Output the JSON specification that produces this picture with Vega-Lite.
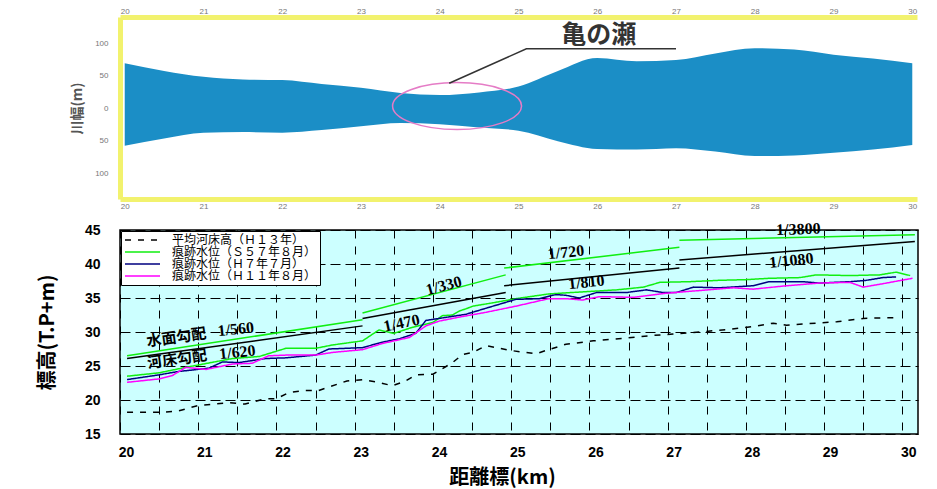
{
  "$schema": "https://vega.github.io/schema/vega-lite/v6.json",
  "background": "white",
  "padding": {"left": 36, "top": 7, "right": 5, "bottom": 2},
  "spacing": 31,
  "bounds": "flush",
  "resolve": {"legend": {"color": "independent", "strokeDash": "independent"}},
  "config": {"font": "Liberation Sans", "view": {"stroke": null}},
  "datasets": {
    "river": [
      {"km": 20, "upper": 69, "lower": -58},
      {"km": 20.5, "upper": 57, "lower": -47},
      {"km": 21, "upper": 48, "lower": -38},
      {"km": 21.5, "upper": 44, "lower": -37},
      {"km": 22, "upper": 43, "lower": -38},
      {"km": 22.5, "upper": 37, "lower": -34},
      {"km": 23, "upper": 31, "lower": -28},
      {"km": 23.5, "upper": 23, "lower": -23},
      {"km": 24, "upper": 20, "lower": -25},
      {"km": 24.5, "upper": 24, "lower": -30},
      {"km": 25, "upper": 33, "lower": -35},
      {"km": 25.5, "upper": 57, "lower": -51},
      {"km": 26, "upper": 77, "lower": -63},
      {"km": 26.5, "upper": 72, "lower": -64},
      {"km": 27, "upper": 74, "lower": -62},
      {"km": 27.5, "upper": 84, "lower": -67},
      {"km": 28, "upper": 92, "lower": -74},
      {"km": 28.5, "upper": 90, "lower": -73},
      {"km": 29, "upper": 82, "lower": -69},
      {"km": 29.5, "upper": 76, "lower": -64},
      {"km": 30, "upper": 69, "lower": -57}
    ],
    "levels": [
      {"series": "平均河床高（Ｈ１３年）", "km": 20.09, "value": 18.2},
      {"series": "平均河床高（Ｈ１３年）", "km": 20.54, "value": 18.2},
      {"series": "平均河床高（Ｈ１３年）", "km": 20.75, "value": 18.4},
      {"series": "平均河床高（Ｈ１３年）", "km": 21.0, "value": 19.2},
      {"series": "平均河床高（Ｈ１３年）", "km": 21.4, "value": 19.6},
      {"series": "平均河床高（Ｈ１３年）", "km": 21.6, "value": 19.4},
      {"series": "平均河床高（Ｈ１３年）", "km": 21.86, "value": 20.2},
      {"series": "平均河床高（Ｈ１３年）", "km": 22.0, "value": 20.2},
      {"series": "平均河床高（Ｈ１３年）", "km": 22.16, "value": 21.1},
      {"series": "平均河床高（Ｈ１３年）", "km": 22.37, "value": 21.4},
      {"series": "平均河床高（Ｈ１３年）", "km": 22.54, "value": 21.4},
      {"series": "平均河床高（Ｈ１３年）", "km": 22.9, "value": 22.8},
      {"series": "平均河床高（Ｈ１３年）", "km": 23.1, "value": 23.0},
      {"series": "平均河床高（Ｈ１３年）", "km": 23.3, "value": 22.6},
      {"series": "平均河床高（Ｈ１３年）", "km": 23.48, "value": 22.1},
      {"series": "平均河床高（Ｈ１３年）", "km": 23.65, "value": 22.8},
      {"series": "平均河床高（Ｈ１３年）", "km": 23.78, "value": 23.7},
      {"series": "平均河床高（Ｈ１３年）", "km": 24.0, "value": 23.8},
      {"series": "平均河床高（Ｈ１３年）", "km": 24.12, "value": 24.6},
      {"series": "平均河床高（Ｈ１３年）", "km": 24.25, "value": 25.5},
      {"series": "平均河床高（Ｈ１３年）", "km": 24.38, "value": 26.7},
      {"series": "平均河床高（Ｈ１３年）", "km": 24.51, "value": 27.0},
      {"series": "平均河床高（Ｈ１３年）", "km": 24.68, "value": 28.0},
      {"series": "平均河床高（Ｈ１３年）", "km": 24.98, "value": 27.3},
      {"series": "平均河床高（Ｈ１３年）", "km": 25.32, "value": 26.8},
      {"series": "平均河床高（Ｈ１３年）", "km": 25.45, "value": 27.3},
      {"series": "平均河床高（Ｈ１３年）", "km": 25.7, "value": 28.2},
      {"series": "平均河床高（Ｈ１３年）", "km": 26.05, "value": 28.7},
      {"series": "平均河床高（Ｈ１３年）", "km": 26.47, "value": 29.1},
      {"series": "平均河床高（Ｈ１３年）", "km": 26.81, "value": 29.5},
      {"series": "平均河床高（Ｈ１３年）", "km": 27.07, "value": 29.7},
      {"series": "平均河床高（Ｈ１３年）", "km": 27.41, "value": 30.0},
      {"series": "平均河床高（Ｈ１３年）", "km": 27.79, "value": 30.4},
      {"series": "平均河床高（Ｈ１３年）", "km": 28.09, "value": 30.8},
      {"series": "平均河床高（Ｈ１３年）", "km": 28.35, "value": 31.3},
      {"series": "平均河床高（Ｈ１３年）", "km": 28.52, "value": 31.0},
      {"series": "平均河床高（Ｈ１３年）", "km": 28.9, "value": 31.3},
      {"series": "平均河床高（Ｈ１３年）", "km": 29.16, "value": 31.5},
      {"series": "平均河床高（Ｈ１３年）", "km": 29.5, "value": 32.0},
      {"series": "平均河床高（Ｈ１３年）", "km": 29.8, "value": 32.1},
      {"series": "平均河床高（Ｈ１３年）", "km": 29.97, "value": 32.1},

      {"series": "痕跡水位（Ｓ５７年８月）", "km": 20.09, "value": 23.5},
      {"series": "痕跡水位（Ｓ５７年８月）", "km": 20.5, "value": 24.0},
      {"series": "痕跡水位（Ｓ５７年８月）", "km": 20.84, "value": 24.8},
      {"series": "痕跡水位（Ｓ５７年８月）", "km": 21.0, "value": 25.15},
      {"series": "痕跡水位（Ｓ５７年８月）", "km": 21.44, "value": 26.1},
      {"series": "痕跡水位（Ｓ５７年８月）", "km": 21.78, "value": 26.4},
      {"series": "痕跡水位（Ｓ５７年８月）", "km": 22.12, "value": 27.6},
      {"series": "痕跡水位（Ｓ５７年８月）", "km": 22.5, "value": 27.6},
      {"series": "痕跡水位（Ｓ５７年８月）", "km": 22.72, "value": 28.1},
      {"series": "痕跡水位（Ｓ５７年８月）", "km": 23.1, "value": 28.7},
      {"series": "痕跡水位（Ｓ５７年８月）", "km": 23.31, "value": 30.3},
      {"series": "痕跡水位（Ｓ５７年８月）", "km": 23.5, "value": 29.8},
      {"series": "痕跡水位（Ｓ５７年８月）", "km": 23.74, "value": 30.7},
      {"series": "痕跡水位（Ｓ５７年８月）", "km": 24.0, "value": 31.4},
      {"series": "痕跡水位（Ｓ５７年８月）", "km": 24.12, "value": 32.4},
      {"series": "痕跡水位（Ｓ５７年８月）", "km": 24.25, "value": 32.5},
      {"series": "痕跡水位（Ｓ５７年８月）", "km": 24.34, "value": 33.1},
      {"series": "痕跡水位（Ｓ５７年８月）", "km": 24.42, "value": 33.4},
      {"series": "痕跡水位（Ｓ５７年８月）", "km": 24.51, "value": 33.8},
      {"series": "痕跡水位（Ｓ５７年８月）", "km": 24.77, "value": 34.3},
      {"series": "痕跡水位（Ｓ５７年８月）", "km": 25.06, "value": 34.9},
      {"series": "痕跡水位（Ｓ５７年８月）", "km": 25.48, "value": 35.6},
      {"series": "痕跡水位（Ｓ５７年８月）", "km": 25.91, "value": 35.9},
      {"series": "痕跡水位（Ｓ５７年８月）", "km": 26.35, "value": 36.2},
      {"series": "痕跡水位（Ｓ５７年８月）", "km": 26.69, "value": 36.6},
      {"series": "痕跡水位（Ｓ５７年８月）", "km": 26.9, "value": 37.3},
      {"series": "痕跡水位（Ｓ５７年８月）", "km": 27.28, "value": 37.4},
      {"series": "痕跡水位（Ｓ５７年８月）", "km": 27.66, "value": 37.6},
      {"series": "痕跡水位（Ｓ５７年８月）", "km": 28.0, "value": 37.7},
      {"series": "痕跡水位（Ｓ５７年８月）", "km": 28.3, "value": 37.9},
      {"series": "痕跡水位（Ｓ５７年８月）", "km": 28.69, "value": 38.0},
      {"series": "痕跡水位（Ｓ５７年８月）", "km": 28.9, "value": 38.4},
      {"series": "痕跡水位（Ｓ５７年８月）", "km": 29.33, "value": 38.3},
      {"series": "痕跡水位（Ｓ５７年８月）", "km": 29.71, "value": 38.4},
      {"series": "痕跡水位（Ｓ５７年８月）", "km": 29.92, "value": 38.8},
      {"series": "痕跡水位（Ｓ５７年８月）", "km": 30.1, "value": 38.3},

      {"series": "痕跡水位（Ｈ７年７月）", "km": 20.09, "value": 23.0},
      {"series": "痕跡水位（Ｈ７年７月）", "km": 20.5, "value": 23.7},
      {"series": "痕跡水位（Ｈ７年７月）", "km": 20.75, "value": 24.2},
      {"series": "痕跡水位（Ｈ７年７月）", "km": 20.92, "value": 24.4},
      {"series": "痕跡水位（Ｈ７年７月）", "km": 21.14, "value": 24.7},
      {"series": "痕跡水位（Ｈ７年７月）", "km": 21.31, "value": 25.6},
      {"series": "痕跡水位（Ｈ７年７月）", "km": 21.52, "value": 25.5},
      {"series": "痕跡水位（Ｈ７年７月）", "km": 21.86, "value": 26.1},
      {"series": "痕跡水位（Ｈ７年７月）", "km": 22.12, "value": 26.2},
      {"series": "痕跡水位（Ｈ７年７月）", "km": 22.5, "value": 26.6},
      {"series": "痕跡水位（Ｈ７年７月）", "km": 22.67, "value": 27.5},
      {"series": "痕跡水位（Ｈ７年７月）", "km": 23.1, "value": 27.7},
      {"series": "痕跡水位（Ｈ７年７月）", "km": 23.35, "value": 28.5},
      {"series": "痕跡水位（Ｈ７年７月）", "km": 23.57, "value": 29.0},
      {"series": "痕跡水位（Ｈ７年７月）", "km": 23.78, "value": 29.8},
      {"series": "痕跡水位（Ｈ７年７月）", "km": 23.91, "value": 31.7},
      {"series": "痕跡水位（Ｈ７年７月）", "km": 24.08, "value": 32.0},
      {"series": "痕跡水位（Ｈ７年７月）", "km": 24.42, "value": 32.6},
      {"series": "痕跡水位（Ｈ７年７月）", "km": 24.68, "value": 33.5},
      {"series": "痕跡水位（Ｈ７年７月）", "km": 25.06, "value": 34.8},
      {"series": "痕跡水位（Ｈ７年７月）", "km": 25.36, "value": 34.9},
      {"series": "痕跡水位（Ｈ７年７月）", "km": 25.57, "value": 35.5},
      {"series": "痕跡水位（Ｈ７年７月）", "km": 25.7, "value": 35.4},
      {"series": "痕跡水位（Ｈ７年７月）", "km": 25.87, "value": 35.0},
      {"series": "痕跡水位（Ｈ７年７月）", "km": 26.09, "value": 35.8},
      {"series": "痕跡水位（Ｈ７年７月）", "km": 26.47, "value": 35.8},
      {"series": "痕跡水位（Ｈ７年７月）", "km": 26.73, "value": 36.2},
      {"series": "痕跡水位（Ｈ７年７月）", "km": 26.94, "value": 35.8},
      {"series": "痕跡水位（Ｈ７年７月）", "km": 27.11, "value": 35.8},
      {"series": "痕跡水位（Ｈ７年７月）", "km": 27.33, "value": 36.6},
      {"series": "痕跡水位（Ｈ７年７月）", "km": 27.66, "value": 36.5},
      {"series": "痕跡水位（Ｈ７年７月）", "km": 28.09, "value": 36.8},
      {"series": "痕跡水位（Ｈ７年７月）", "km": 28.3, "value": 37.4},
      {"series": "痕跡水位（Ｈ７年７月）", "km": 28.73, "value": 37.4},
      {"series": "痕跡水位（Ｈ７年７月）", "km": 28.94, "value": 37.2},
      {"series": "痕跡水位（Ｈ７年７月）", "km": 29.33, "value": 37.4},
      {"series": "痕跡水位（Ｈ７年７月）", "km": 29.54, "value": 37.6},
      {"series": "痕跡水位（Ｈ７年７月）", "km": 29.75, "value": 38.0},
      {"series": "痕跡水位（Ｈ７年７月）", "km": 29.92, "value": 38.1},

      {"series": "痕跡水位（Ｈ１１年８月）", "km": 20.09, "value": 22.6},
      {"series": "痕跡水位（Ｈ１１年８月）", "km": 20.5, "value": 23.1},
      {"series": "痕跡水位（Ｈ１１年８月）", "km": 20.67, "value": 23.6},
      {"series": "痕跡水位（Ｈ１１年８月）", "km": 20.84, "value": 24.8},
      {"series": "痕跡水位（Ｈ１１年８月）", "km": 21.1, "value": 24.5},
      {"series": "痕跡水位（Ｈ１１年８月）", "km": 21.44, "value": 25.3},
      {"series": "痕跡水位（Ｈ１１年８月）", "km": 21.69, "value": 25.4},
      {"series": "痕跡水位（Ｈ１１年８月）", "km": 21.9, "value": 26.5},
      {"series": "痕跡水位（Ｈ１１年８月）", "km": 22.12, "value": 26.6},
      {"series": "痕跡水位（Ｈ１１年８月）", "km": 22.5, "value": 26.6},
      {"series": "痕跡水位（Ｈ１１年８月）", "km": 22.72, "value": 27.0},
      {"series": "痕跡水位（Ｈ１１年８月）", "km": 23.1, "value": 27.4},
      {"series": "痕跡水位（Ｈ１１年８月）", "km": 23.35, "value": 28.3},
      {"series": "痕跡水位（Ｈ１１年８月）", "km": 23.7, "value": 29.2},
      {"series": "痕跡水位（Ｈ１１年８月）", "km": 23.91, "value": 30.9},
      {"series": "痕跡水位（Ｈ１１年８月）", "km": 24.08, "value": 31.6},
      {"series": "痕跡水位（Ｈ１１年８月）", "km": 24.34, "value": 32.2},
      {"series": "痕跡水位（Ｈ１１年８月）", "km": 24.68, "value": 32.9},
      {"series": "痕跡水位（Ｈ１１年８月）", "km": 25.06, "value": 33.8},
      {"series": "痕跡水位（Ｈ１１年８月）", "km": 25.48, "value": 34.9},
      {"series": "痕跡水位（Ｈ１１年８月）", "km": 25.7, "value": 34.9},
      {"series": "痕跡水位（Ｈ１１年８月）", "km": 25.91, "value": 34.7},
      {"series": "痕跡水位（Ｈ１１年８月）", "km": 26.13, "value": 35.2},
      {"series": "痕跡水位（Ｈ１１年８月）", "km": 26.56, "value": 35.1},
      {"series": "痕跡水位（Ｈ１１年８月）", "km": 26.98, "value": 35.7},
      {"series": "痕跡水位（Ｈ１１年８月）", "km": 27.41, "value": 36.1},
      {"series": "痕跡水位（Ｈ１１年８月）", "km": 27.84, "value": 36.5},
      {"series": "痕跡水位（Ｈ１１年８月）", "km": 28.09, "value": 36.3},
      {"series": "痕跡水位（Ｈ１１年８月）", "km": 28.52, "value": 36.8},
      {"series": "痕跡水位（Ｈ１１年８月）", "km": 28.94, "value": 37.2},
      {"series": "痕跡水位（Ｈ１１年８月）", "km": 29.33, "value": 37.3},
      {"series": "痕跡水位（Ｈ１１年８月）", "km": 29.5, "value": 36.6},
      {"series": "痕跡水位（Ｈ１１年８月）", "km": 29.75, "value": 37.1},
      {"series": "痕跡水位（Ｈ１１年８月）", "km": 30.13, "value": 37.9}
    ],
    "grad": [
      {"seg": "w1", "type": "water", "km": 20.09, "value": 26.5},
      {"seg": "w1", "type": "water", "km": 23.1, "value": 31.8},
      {"seg": "w2", "type": "water", "km": 23.1, "value": 32.8},
      {"seg": "w2", "type": "water", "km": 24.93, "value": 38.4},
      {"seg": "w3", "type": "water", "km": 24.91, "value": 39.4},
      {"seg": "w3", "type": "water", "km": 27.15, "value": 42.45},
      {"seg": "w4", "type": "water", "km": 27.15, "value": 43.5},
      {"seg": "w4", "type": "water", "km": 30.16, "value": 44.3},
      {"seg": "b1", "type": "bed", "km": 20.09, "value": 26.1},
      {"seg": "b1", "type": "bed", "km": 23.1, "value": 30.9},
      {"seg": "b2", "type": "bed", "km": 23.1, "value": 32.0},
      {"seg": "b2", "type": "bed", "km": 24.93, "value": 35.8},
      {"seg": "b3", "type": "bed", "km": 24.91, "value": 36.8},
      {"seg": "b3", "type": "bed", "km": 27.15, "value": 39.4},
      {"seg": "b4", "type": "bed", "km": 27.15, "value": 40.6},
      {"seg": "b4", "type": "bed", "km": 30.16, "value": 43.3}
    ],
    "notes": [
      {"label": "1/560", "kind": "ratio", "km": 21.48, "value": 30.4},
      {"label": "1/620", "kind": "ratio", "km": 21.5, "value": 27.0},
      {"label": "1/330", "kind": "ratio", "km": 24.14, "value": 36.8},
      {"label": "1/470", "kind": "ratio", "km": 23.6, "value": 31.3},
      {"label": "1/720", "kind": "ratio", "km": 25.7, "value": 41.7},
      {"label": "1/810", "kind": "ratio", "km": 25.96, "value": 37.3},
      {"label": "1/3800", "kind": "ratio", "km": 28.67, "value": 45.1},
      {"label": "1/1080", "kind": "ratio", "km": 28.58, "value": 40.5},
      {"label": "水面勾配", "kind": "jp", "km": 20.72, "value": 29.2},
      {"label": "河床勾配", "kind": "jp", "km": 20.73, "value": 26.0}
    ]
  },
  "vconcat": [
    {
      "width": 797,
      "height": 182,
      "view": {"stroke": null, "fill": "white"},
      "resolve": {"axis": {"x": "independent"}},
      "layer": [
        {
          "data": {"name": "river"},
          "mark": {"type": "area", "color": "#1b8ec6", "interpolate": "monotone", "opacity": 1},
          "encoding": {
            "x": {"field": "km", "type": "quantitative",
              "scale": {"domain": [19.94, 30.06], "nice": false, "zero": false},
              "axis": {"orient": "bottom", "title": null, "values": [20,21,22,23,24,25,26,27,28,29,30], "tickCount": 50, "format": "d",
                "domainColor": "#f2f26e", "domainWidth": 5, "ticks": false, "grid": false,
                "labelColor": "#777", "labelFontSize": 8, "labelPadding": 3}},
            "y": {"field": "upper", "type": "quantitative",
              "scale": {"domain": [-140, 140], "nice": false},
              "axis": {"values": [-100, -50, 0, 50, 100], "tickCount": 50, "labelExpr": "format(abs(datum.value), 'd')",
                "title": "川幅(m)", "titleFont": "Noto Sans CJK JP", "titleFontSize": 14, "titleColor": "#555",
                "titleFontWeight": "bold", "titlePadding": 10,
                "domainColor": "#f2f26e", "domainWidth": 5, "ticks": false, "grid": false,
                "labelColor": "#777", "labelFontSize": 8, "labelPadding": 12}},
            "y2": {"field": "lower"}
          }
        },
        {
          "mark": {"type": "rule", "color": "#d6ee9a", "strokeWidth": 2},
          "encoding": {"x": {"datum": 20, "axis": null}, "x2": {"datum": 30}, "y": {"datum": 0}}
        },
        {
          "data": {"values": [{"km": 24.22, "upper": 3}]},
          "mark": {"type": "point", "shape": "M -1 0 A 1 0.364 0 1 0 1 0 A 1 0.364 0 1 0 -1 0 Z",
            "size": 16641, "filled": false, "stroke": "#e57cc6", "strokeWidth": 1.5, "opacity": 1},
          "encoding": {"x": {"field": "km", "type": "quantitative", "axis": null}, "y": {"field": "upper", "type": "quantitative"}}
        },
        {
          "data": {"values": [{"km": 24.12, "upper": 38, "o": 1}, {"km": 25.1, "upper": 91, "o": 2}, {"km": 27.0, "upper": 91, "o": 3}]},
          "mark": {"type": "line", "color": "#333", "strokeWidth": 1.5},
          "encoding": {
            "x": {"field": "km", "type": "quantitative",
              "axis": {"orient": "top", "title": null, "values": [20,21,22,23,24,25,26,27,28,29,30], "tickCount": 50, "format": "d",
                "domainColor": "#f2f26e", "domainWidth": 5, "ticks": false, "grid": false,
                "labelColor": "#777", "labelFontSize": 8, "labelPadding": 2}},
            "y": {"field": "upper", "type": "quantitative"},
            "order": {"field": "o"}
          }
        },
        {
          "data": {"values": [{"km": 26.02, "upper": 92, "label": "亀の瀬"}]},
          "mark": {"type": "text", "font": "Noto Sans CJK JP", "fontWeight": "bold", "fontSize": 25,
            "color": "#333", "baseline": "bottom", "align": "center"},
          "encoding": {"x": {"field": "km", "type": "quantitative", "axis": null}, "y": {"field": "upper", "type": "quantitative"},
            "text": {"field": "label"}}
        }
      ]
    },
    {
      "width": 798,
      "height": 204,
      "view": {"fill": "#ccffff", "stroke": "black", "strokeWidth": 1.5},
      "layer": [
        {
          "data": {"name": "levels"},
          "mark": {"type": "line", "strokeWidth": 1.5},
          "encoding": {
            "x": {"field": "km", "type": "quantitative",
              "scale": {"domain": [20, 30.2], "nice": false, "zero": false},
              "axis": {"values": [20,20.5,21,21.5,22,22.5,23,23.5,24,24.5,25,25.5,26,26.5,27,27.5,28,28.5,29,29.5,30],
                "tickCount": 100,
                "labelExpr": "datum.value % 1 == 0 ? format(datum.value, 'd') : ''",
                "grid": true, "gridDash": [8, 8], "gridColor": "black", "gridOpacity": 1, "gridWidth": 1,
                "ticks": false, "domain": false, "labelFont": "Liberation Sans", "labelFontWeight": "bold",
                "labelFontSize": 14, "labelColor": "black", "labelPadding": 11, "labelOffset": 6, "labelFlush": false,
                "labelOverlap": false,
                "title": "距離標(km)", "titleFont": "Noto Sans CJK JP", "titleFontSize": 20, "titleFontWeight": "bold",
                "titleColor": "black", "titlePadding": 8, "titleX": 382}},
            "y": {"field": "value", "type": "quantitative",
              "scale": {"domain": [15, 45], "nice": false, "zero": false},
              "axis": {"values": [15, 20, 25, 30, 35, 40, 45], "tickCount": 50, "format": "d", "labelOverlap": false,
                "grid": true, "gridDash": [10, 5], "gridColor": "black", "gridOpacity": 1, "gridWidth": 1,
                "ticks": false, "domain": false, "labelFont": "Liberation Sans", "labelFontWeight": "bold",
                "labelFontSize": 14, "labelColor": "black", "labelPadding": 20,
                "title": "標高(T.P+m)", "titleFont": "Noto Sans CJK JP", "titleFontSize": 20, "titleFontWeight": "bold",
                "titleColor": "black", "titlePadding": 27}},
            "color": {"field": "series", "type": "nominal",
              "scale": {"domain": ["平均河床高（Ｈ１３年）", "痕跡水位（Ｓ５７年８月）", "痕跡水位（Ｈ７年７月）", "痕跡水位（Ｈ１１年８月）"],
                "range": ["black", "#11ee11", "#000080", "#ff00ff"]},
              "legend": {"orient": "top-left", "offset": 1, "title": null, "fillColor": "white", "strokeColor": "black",
                "padding": 3, "labelFont": "Noto Sans CJK JP", "labelFontSize": 12, "labelColor": "black", "labelLimit": 400,
                "symbolType": "M -1 0 L 6 0", "symbolSize": 100, "symbolStrokeWidth": 1.5, "rowPadding": -2, "labelOffset": 36}},
            "strokeDash": {"field": "series", "type": "nominal",
              "scale": {"domain": ["平均河床高（Ｈ１３年）", "痕跡水位（Ｓ５７年８月）", "痕跡水位（Ｈ７年７月）", "痕跡水位（Ｈ１１年８月）"],
                "range": [[6, 7], [1, 0], [1, 0], [1, 0]]},
              "legend": {"orient": "top-left", "offset": 1, "title": null, "fillColor": "white", "strokeColor": "black",
                "padding": 3, "labelFont": "Noto Sans CJK JP", "labelFontSize": 12, "labelColor": "black", "labelLimit": 400,
                "symbolType": "M -1 0 L 6 0", "symbolSize": 100, "symbolStrokeWidth": 1.5, "rowPadding": -2, "labelOffset": 36}}
          }
        },
        {
          "data": {"name": "grad"},
          "transform": [{"filter": "datum.type == 'water'"}],
          "mark": {"type": "line", "color": "#11ee11", "strokeWidth": 1.5},
          "encoding": {"x": {"field": "km", "type": "quantitative"}, "y": {"field": "value", "type": "quantitative"},
            "detail": {"field": "seg"}}
        },
        {
          "data": {"name": "grad"},
          "transform": [{"filter": "datum.type == 'bed'"}],
          "mark": {"type": "line", "color": "black", "strokeWidth": 1.5},
          "encoding": {"x": {"field": "km", "type": "quantitative"}, "y": {"field": "value", "type": "quantitative"},
            "detail": {"field": "seg"}}
        },
        {
          "data": {"name": "notes"},
          "transform": [{"filter": "datum.kind == 'ratio'"}],
          "mark": {"type": "text", "font": "Liberation Serif", "fontSize": 16, "fontWeight": "bold", "color": "black",
            "angle": {"expr": "datum.label == '1/330' ? 345 : datum.label == '1/470' ? 348 : datum.label == '1/3800' ? 358 : 354"}},
          "encoding": {"x": {"field": "km", "type": "quantitative"}, "y": {"field": "value", "type": "quantitative"},
            "text": {"field": "label"}}
        },
        {
          "data": {"name": "notes"},
          "transform": [{"filter": "datum.kind == 'jp'"}],
          "mark": {"type": "text", "font": "Noto Sans CJK JP", "fontSize": 15, "fontWeight": "bold", "color": "black", "angle": 352},
          "encoding": {"x": {"field": "km", "type": "quantitative"}, "y": {"field": "value", "type": "quantitative"},
            "text": {"field": "label"}}
        }
      ]
    }
  ]
}
